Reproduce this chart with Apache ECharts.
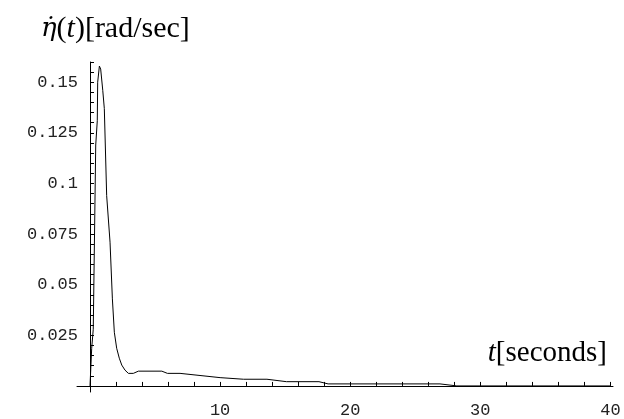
<!DOCTYPE html>
<html>
<head>
<meta charset="utf-8">
<script src="https://cdn.jsdelivr.net/npm/echarts@6/dist/echarts.min.js"></script>
<style>html,body{margin:0;padding:0;background:#fff}#c{width:624px;height:419px}</style>
</head>
<body>
<div id="c"></div>
<script>
const tValues = [0, 0.05, 0.13, 0.25, 0.44, 0.56, 0.59, 0.72, 0.82, 0.92, 0.98, 1.10, 1.28, 1.54, 1.72, 1.87, 2.05, 2.25, 2.44, 2.69, 2.95, 3.33, 3.72, 5.52, 5.95, 6.92, 10.0, 11.8, 13.6, 15.1, 17.6, 18.3, 26.9, 28.2, 40];
const etaDot = [0, 0, 0.0186, 0.028, 0.119, 0.131, 0.150, 0.158, 0.1565, 0.156, 0.146, 0.137, 0.094, 0.071, 0.043, 0.0265, 0.0186, 0.0137, 0.0103, 0.0078, 0.0062, 0.0062, 0.0073, 0.0073, 0.0062, 0.0062, 0.0041, 0.0033, 0.0033, 0.0021, 0.0021, 0.001, 0.001, 0, 0];
const xLabelValues = [10, 20, 30, 40];
const xTickValues = [2,4,6,8,10,12,14,16,18,20,22,24,26,28,30,32,34,36,38,40];
const yLabelValues = [0.025, 0.05, 0.075, 0.1, 0.125, 0.15];
const yTickLabels = ['0.025', '0.05', '0.075', '0.1', '0.125', '0.15'];
const yTickValues = [0.005,0.01,0.015,0.02,0.025,0.03,0.035,0.04,0.045,0.05,0.055,0.06,0.065,0.07,0.075,0.08,0.085,0.09,0.095,0.1,0.105,0.11,0.115,0.12,0.125,0.13,0.135,0.14,0.145,0.15,0.155,0.16];

const chart = echarts.init(document.getElementById('c'), null, {renderer: 'canvas'});
const data = tValues.map((t, i) => [t, etaDot[i]]);
const tickFont = {fontFamily: 'Liberation Mono', fontSize: 17, color: '#222'};
const richSerif = {
  e: {fontFamily: 'DejaVu Serif', fontStyle: 'italic', fontWeight: 'normal', fontSize: 26, color: '#000'},
  i: {fontFamily: 'Liberation Serif', fontStyle: 'italic', fontWeight: 'normal', fontSize: 30, color: '#000'},
  n: {fontFamily: 'Liberation Serif', fontStyle: 'normal', fontWeight: 'normal', fontSize: 30, color: '#000'}
};
chart.setOption({
  animation: false,
  backgroundColor: '#fff',
  title: [
    {
      left: 36, top: 9,
      text: '{e|η̇}{n|(}{i|t}{n|)[rad/sec]}',
      textStyle: {fontWeight: 'normal', rich: richSerif}
    },
    {
      right: 12, top: 334,
      text: '{i|t}{n|[seconds]}',
      textStyle: {fontWeight: 'normal', rich: {
        i: {fontFamily: 'Liberation Serif', fontStyle: 'italic', fontSize: 29, color: '#000'},
        n: {fontFamily: 'Liberation Serif', fontSize: 29, color: '#000'}
      }}
    }
  ],
  grid: {left: 77, right: 11, top: 62, bottom: 22, containLabel: false},
  xAxis: {
    type: 'value', min: -1, max: 40.2,
    splitLine: {show: false},
    axisLine: {onZero: true, lineStyle: {color: '#000', width: 1}},
    axisTick: {show: true, inside: true, length: 4, customValues: xTickValues, lineStyle: {color: '#000'}},
    axisLabel: Object.assign({margin: 10, customValues: xLabelValues, formatter: v => String(v)}, tickFont)
  },
  yAxis: {
    type: 'value', min: -0.003, max: 0.16,
    splitLine: {show: false},
    axisLine: {onZero: true, lineStyle: {color: '#000', width: 1}},
    axisTick: {show: true, inside: true, length: 4, customValues: yTickValues, lineStyle: {color: '#000'}},
    axisLabel: Object.assign({margin: -1, customValues: yLabelValues, formatter: v => {
      const k = yLabelValues.findIndex(x => Math.abs(x - v) < 1e-9);
      return k >= 0 ? yTickLabels[k] : '';
    }}, tickFont)
  },
  series: [{
    type: 'line', data: data, showSymbol: false, symbol: 'none',
    lineStyle: {color: '#000', width: 1}, clip: false
  }]
});
</script>
</body>
</html>
